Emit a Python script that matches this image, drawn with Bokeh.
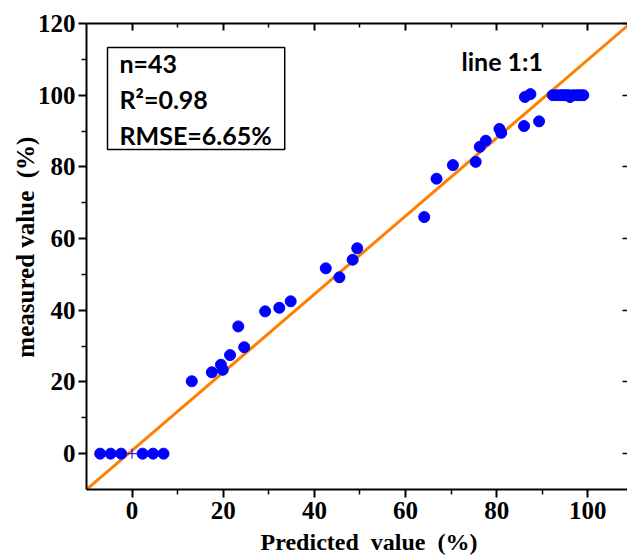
from bokeh.plotting import figure
from bokeh.models import Range1d, LinearAxis, FixedTicker, Label, ColumnDataSource
from bokeh.embed import file_html
from bokeh.resources import INLINE

# ---- data ----
predicted = [-7.0, -4.7, -2.4, 2.3, 4.6, 6.9,
             13.1, 17.5, 19.5, 19.9, 21.5, 23.3, 24.6, 29.2, 32.3, 34.8,
             42.5, 45.5, 48.4, 49.4,
             64.1, 66.8, 70.4, 75.4, 76.3, 77.6, 80.6, 81.0,
             86.0, 89.3, 86.2, 87.4,
             92.3, 93.2, 94.0, 94.6, 95.2, 95.8, 96.1, 96.8, 97.6, 98.3, 99.0]
measured = [0, 0, 0, 0, 0, 0,
            20.2, 22.7, 24.8, 23.4, 27.5, 35.5, 29.7, 39.7, 40.7, 42.5,
            51.7, 49.2, 54.1, 57.3,
            66.0, 76.7, 80.5, 81.4, 85.6, 87.3, 90.6, 89.5,
            91.4, 92.7, 99.5, 100.3,
            100, 100, 100, 100, 100, 100, 99.5, 100, 100, 100, 100]
origin_x = [0]
origin_y = [0]
line_x = [-10, 110]
line_slope = 1.09
line_intercept = 0.9
line_y = [line_slope * v + line_intercept for v in line_x]

x_ticks = [0, 20, 40, 60, 80, 100]
x_minor = [10, 30, 50, 70, 90]
y_ticks = [0, 20, 40, 60, 80, 100, 120]
y_minor = [10, 30, 50, 70, 90, 110]

stats_text = "n=43\nR²=0.98\nRMSE=6.65%"
line_text = "line 1:1"
x_title = "\u00a0\u00a0\u00a0\u00a0Predicted\u00a0 value\u00a0 (%)"
y_title = "\u00a0\u00a0\u00a0measured value\u00a0 (%)"

p = figure(frame_width=541, frame_height=466,
           x_range=Range1d(-10, 108.7), y_range=Range1d(-10, 120),
           output_backend="svg", toolbar_location=None,
           min_border_left=86, min_border_top=23, min_border_bottom=0, min_border_right=0)
p.grid.visible = False
p.outline_line_color = None
p.background_fill_color = "white"

serif = "Liberation Serif"

xa = p.xaxis[0]
xa.ticker = FixedTicker(ticks=x_ticks, minor_ticks=x_minor)
xa.axis_label = x_title
ya = p.yaxis[0]
ya.ticker = FixedTicker(ticks=y_ticks, minor_ticks=y_minor)
ya.axis_label = y_title

for ax in (xa, ya):
    ax.axis_line_width = 2
    ax.axis_line_color = "black"
    ax.major_tick_line_width = 2
    ax.minor_tick_line_width = 1.5
    ax.major_tick_in = 0
    ax.major_tick_out = 8
    ax.minor_tick_in = 0
    ax.minor_tick_out = 5
    ax.major_label_text_font = serif
    ax.major_label_text_font_style = "bold"
    ax.major_label_text_font_size = "25px"
    ax.major_label_text_color = "black"
    ax.axis_label_text_font = serif
    ax.axis_label_text_font_style = "bold"
    ax.axis_label_text_font_size = "24px"
    ax.axis_label_text_color = "black"

ya.axis_label_text_font_size = "25px"
xa.major_label_standoff = 4
xa.axis_label_standoff = 7
ya.major_label_standoff = 3
ya.axis_label_standoff = -4

top = LinearAxis(ticker=FixedTicker(ticks=x_ticks, minor_ticks=x_minor),
                 major_tick_in=7, major_tick_out=0, minor_tick_in=4, minor_tick_out=0,
                 major_label_overrides={t: "" for t in x_ticks},
                 major_label_text_font_size="1px", major_label_standoff=0,
                 axis_line_width=2, major_tick_line_width=2, minor_tick_line_width=1.5)
p.add_layout(top, "above")

right = LinearAxis(ticker=FixedTicker(ticks=y_ticks, minor_ticks=[]),
                   major_tick_in=5, major_tick_out=0, minor_tick_in=0, minor_tick_out=0,
                   major_label_overrides={t: "" for t in y_ticks},
                   major_label_text_font_size="1px", major_label_standoff=0,
                   axis_line_color=None, major_tick_line_width=1.5)
p.add_layout(right, "right")

p.line(line_x, line_y, line_color="#FF8000", line_width=3)

src = ColumnDataSource(dict(x=predicted, y=measured))
p.scatter("x", "y", source=src, size=11, fill_color="#0000FF", line_color="#0000FF")
p.scatter(origin_x, origin_y, marker="cross", size=10, line_color="#0000FF", line_width=1)

stats = Label(x=21, y=442, x_units="screen", y_units="screen", text=stats_text,
              anchor="top_left", text_font="Lato", text_font_style="bold",
              text_font_size="25px", text_color="black", text_line_height=1.2,
              padding=dict(left=12, right=13, top=0, bottom=0),
              border_line_color="black", border_line_width=1.5,
              background_fill_color="white")
p.add_layout(stats)

ll = Label(x=375, y=429, x_units="screen", y_units="screen", text=line_text,
           text_font="Lato", text_font_style="bold", text_font_size="25px",
           text_color="black", text_baseline="middle")
p.add_layout(ll)

open("out.html", "w").write(file_html(p, INLINE))
